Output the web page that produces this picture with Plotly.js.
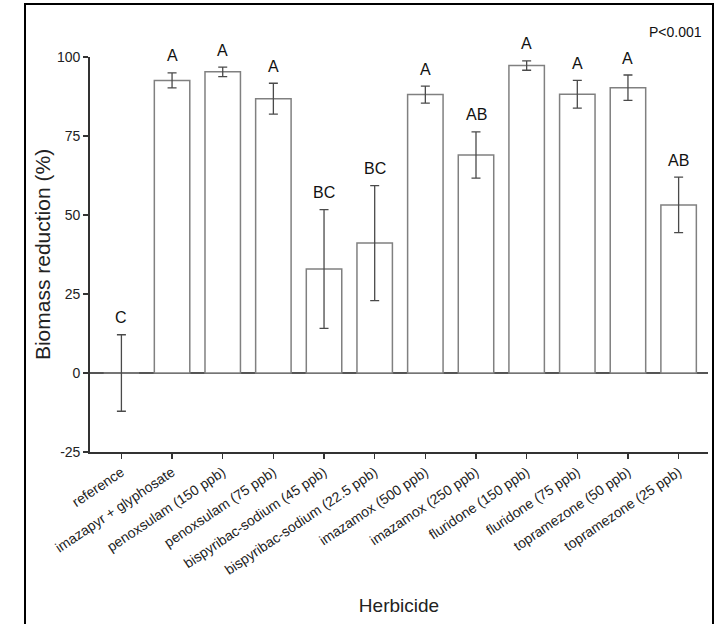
<!DOCTYPE html>
<html>
<head>
<meta charset="utf-8">
<script src="https://cdn.plot.ly/plotly-3.0.1.min.js"></script>
<style>html,body{margin:0;padding:0;background:#fff;}#chart{width:715px;height:624px;}</style>
</head>
<body>
<div id="chart"></div>
<script>
var herbicides = ["reference","imazapyr + glyphosate","penoxsulam (150 ppb)","penoxsulam (75 ppb)","bispyribac-sodium (45 ppb)","bispyribac-sodium (22.5 ppb)","imazamox (500 ppb)","imazamox (250 ppb)","fluridone (150 ppb)","fluridone (75 ppb)","topramezone (50 ppb)","topramezone (25 ppb)"];
var reduction = [0, 92.6, 95.3, 86.8, 32.9, 41.1, 88.1, 69.0, 97.3, 88.2, 90.3, 53.2];
var stdErr = [12.1, 2.4, 1.5, 4.9, 18.8, 18.2, 2.7, 7.3, 1.5, 4.4, 4.0, 8.8];
var letters = ["C","A","A","A","BC","BC","A","AB","A","A","A","AB"];
var yTicks = [-25, 0, 25, 50, 75, 100];
var yTickText = ["-25", "0", "25", "50", "75", "100"];

var font = "'Liberation Sans', Arial, sans-serif";
var idx = herbicides.map(function(_, i){ return i; });

var trace = {
  type: "bar",
  x: idx,
  y: reduction,
  width: 0.7,
  marker: {color: "#ffffff", line: {color: "#808080", width: 1.5}},
  error_y: {type: "data", array: stdErr, visible: true, color: "#4a4a4a", thickness: 1.3, width: 4.5},
  cliponaxis: false,
  hoverinfo: "skip"
};

var L = 90, R = 7, T = 57, B = 172, W = 715, H = 624;
var pw = W - L - R, ph = H - T - B;
function px(x){ return (x - L) / pw; }
function py(y){ return (H - B - y) / ph; }

var annotations = idx.map(function(i){
  return {x: i, y: reduction[i] + stdErr[i], xref: "x", yref: "y", text: letters[i],
    showarrow: false, yanchor: "middle", yshift: 17, font: {family: font, size: 16, color: "#111"}};
});
annotations.push({x: px(704), y: py(32), xref: "paper", yref: "paper", text: "P<0.001", showarrow: false,
  xanchor: "right", yanchor: "middle", font: {family: font, size: 14, color: "#111"}});

var layout = {
  width: W, height: H,
  margin: {l: L, r: R, t: T, b: B, pad: 0},
  paper_bgcolor: "#fff", plot_bgcolor: "#fff",
  showlegend: false,
  font: {family: font, color: "#222"},
  xaxis: {
    range: [-0.62, 11.58],
    tickmode: "array", tickvals: idx, ticktext: herbicides,
    tickangle: -34, ticks: "outside", ticklen: 5, tickcolor: "#333", tickwidth: 1.3,
    tickfont: {family: font, size: 14, color: "#222"},
    showline: true, linecolor: "#333", linewidth: 1.8,
    showgrid: false, zeroline: false, fixedrange: true,
    title: {text: "Herbicide", font: {family: font, size: 19, color: "#222"}, standoff: 22}
  },
  yaxis: {
    range: [-25, 100],
    tickmode: "array", tickvals: yTicks, ticktext: yTickText,
    ticks: "outside", ticklen: 5, tickcolor: "#333", tickwidth: 1.3,
    tickfont: {family: font, size: 14, color: "#222"},
    showline: true, linecolor: "#333", linewidth: 1.8,
    showgrid: false, zeroline: true, zerolinecolor: "#555", zerolinewidth: 1.5,
    fixedrange: true,
    title: {text: "Biomass reduction (%)", font: {family: font, size: 21, color: "#222"}, standoff: 1}
  },
  annotations: annotations,
  shapes: [{type: "rect", xref: "paper", yref: "paper", x0: px(25), x1: px(713), y0: py(640), y1: py(4),
    line: {color: "#000", width: 2}, fillcolor: "rgba(0,0,0,0)", layer: "above"}]
};

Plotly.newPlot("chart", [trace], layout, {displayModeBar: false, staticPlot: true});
</script>
</body>
</html>
